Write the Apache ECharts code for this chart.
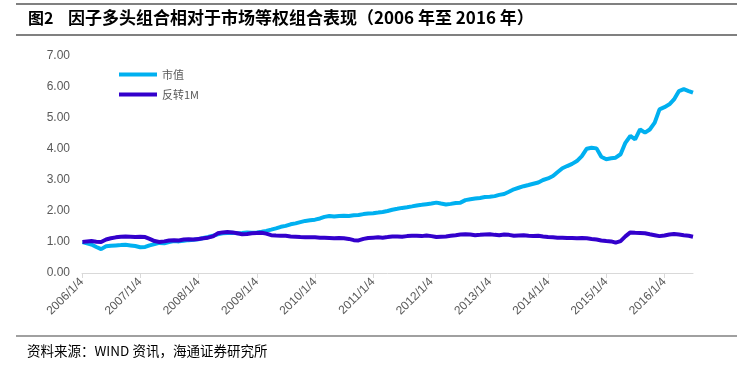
<!DOCTYPE html>
<html>
<head>
<meta charset="utf-8">
<script src="https://cdn.jsdelivr.net/npm/echarts@6/dist/echarts.min.js"></script>
<style>
html,body{margin:0;padding:0;background:#fff;}
#chart{width:753px;height:366px;}
</style>
</head>
<body>
<div id="chart"></div>
<script>
const titleLabel = '图2';
const titleText = '因子多头组合相对于市场等权组合表现（2006 年至 2016 年）';
const sourceText = '资料来源：WIND 资讯，海通证券研究所';
const seriesNames = ['市值', '反转1M'];

const dates = [
'2006-01-04','2006-02-01','2006-03-01','2006-04-01','2006-05-01','2006-06-01','2006-07-01','2006-08-01','2006-09-01','2006-10-01','2006-11-01','2006-12-01',
'2007-01-01','2007-02-01','2007-03-01','2007-04-01','2007-05-01','2007-06-01','2007-07-01','2007-08-01','2007-09-01','2007-10-01','2007-11-01','2007-12-01',
'2008-01-01','2008-02-01','2008-03-01','2008-04-01','2008-05-01','2008-06-01','2008-07-01','2008-08-01','2008-09-01','2008-10-01','2008-11-01','2008-12-01',
'2009-01-01','2009-02-01','2009-03-01','2009-04-01','2009-05-01','2009-06-01','2009-07-01','2009-08-01','2009-09-01','2009-10-01','2009-11-01','2009-12-01',
'2010-01-01','2010-02-01','2010-03-01','2010-04-01','2010-05-01','2010-06-01','2010-07-01','2010-08-01','2010-09-01','2010-10-01','2010-11-01','2010-12-01',
'2011-01-01','2011-02-01','2011-03-01','2011-04-01','2011-05-01','2011-06-01','2011-07-01','2011-08-01','2011-09-01','2011-10-01','2011-11-01','2011-12-01',
'2012-01-01','2012-02-01','2012-03-01','2012-04-01','2012-05-01','2012-06-01','2012-07-01','2012-08-01','2012-09-01','2012-10-01','2012-11-01','2012-12-01',
'2013-01-01','2013-02-01','2013-03-01','2013-04-01','2013-05-01','2013-06-01','2013-07-01','2013-08-01','2013-09-01','2013-10-01','2013-11-01','2013-12-01',
'2014-01-01','2014-02-01','2014-03-01','2014-04-01','2014-05-01','2014-06-01','2014-07-01','2014-08-01','2014-09-01','2014-10-01','2014-11-01','2014-12-01',
'2015-01-01','2015-02-01','2015-03-01','2015-04-01','2015-05-01','2015-06-01','2015-07-01','2015-08-01','2015-09-01','2015-10-01','2015-11-01','2015-12-01',
'2016-01-01','2016-02-01','2016-03-01','2016-04-01','2016-05-01','2016-06-01','2016-06-28'
];

const marketCap = [
1.00,0.96,0.92,0.84,0.77,0.86,0.88,0.89,0.90,0.91,0.89,0.87,
0.83,0.84,0.89,0.93,0.97,0.96,1.00,1.03,1.02,1.04,1.06,1.07,
1.09,1.13,1.16,1.20,1.25,1.28,1.29,1.30,1.28,1.29,1.31,1.30,
1.31,1.33,1.36,1.40,1.44,1.49,1.52,1.57,1.60,1.64,1.68,1.70,
1.72,1.76,1.81,1.84,1.82,1.84,1.85,1.84,1.86,1.87,1.90,1.92,
1.93,1.95,1.97,2.00,2.04,2.07,2.10,2.12,2.15,2.18,2.20,2.22,
2.24,2.27,2.24,2.21,2.23,2.26,2.27,2.35,2.38,2.40,2.42,2.45,
2.46,2.48,2.52,2.55,2.62,2.70,2.75,2.80,2.84,2.88,2.92,3.00,
3.05,3.13,3.25,3.38,3.45,3.52,3.61,3.77,4.01,4.04,4.02,3.75,
3.67,3.70,3.72,3.83,4.20,4.42,4.31,4.63,4.53,4.63,4.85,5.28,
5.35,5.44,5.60,5.87,5.93,5.87,5.82
];

const reversal1M = [
1.00,1.02,1.03,1.01,1.00,1.08,1.12,1.15,1.17,1.18,1.17,1.16,
1.17,1.16,1.10,1.03,1.00,1.02,1.05,1.06,1.05,1.08,1.09,1.08,
1.10,1.12,1.14,1.18,1.28,1.31,1.32,1.31,1.28,1.25,1.26,1.28,
1.29,1.30,1.27,1.22,1.21,1.20,1.20,1.18,1.17,1.16,1.15,1.15,
1.15,1.14,1.14,1.13,1.12,1.13,1.12,1.10,1.06,1.05,1.10,1.13,
1.14,1.15,1.14,1.16,1.18,1.18,1.17,1.19,1.20,1.20,1.19,1.21,
1.19,1.16,1.17,1.18,1.20,1.22,1.24,1.25,1.24,1.22,1.23,1.24,
1.25,1.23,1.22,1.24,1.23,1.20,1.21,1.22,1.20,1.19,1.20,1.18,
1.16,1.15,1.14,1.14,1.13,1.13,1.12,1.13,1.12,1.10,1.08,1.05,
1.03,1.02,0.98,1.03,1.18,1.31,1.30,1.29,1.28,1.25,1.22,1.19,
1.21,1.24,1.26,1.24,1.22,1.20,1.17
];

const xMin = '2006-01-01';
const xMax = '2016-06-28';
const yTicks = [0, 1, 2, 3, 4, 5, 6, 7];

const chart = echarts.init(document.getElementById('chart'));
const pair = (vals) => dates.map((d, i) => [d, vals[i]]);
const YEAR = 365 * 24 * 3600 * 1000;

chart.setOption({
  backgroundColor: '#fff',
  animation: false,
  grid: { left: 82, right: 60, top: 56, bottom: 93, containLabel: false },
  legend: {
    orient: 'vertical', left: 119, top: 69, padding: 0,
    itemWidth: 38, itemHeight: 4, itemGap: 9,
    icon: 'rect',
    textStyle: { fontSize: 11, color: '#595959', fontFamily: 'Noto Sans CJK SC' },
    data: seriesNames
  },
  xAxis: {
    type: 'time', min: xMin, max: xMax,
    minInterval: YEAR, maxInterval: YEAR + 2 * 24 * 3600 * 1000,
    axisLine: { show: true, lineStyle: { color: '#d9d9d9', width: 1 } },
    axisTick: { show: true, length: 5, lineStyle: { color: '#d9d9d9' } },
    splitLine: { show: false },
    axisLabel: {
      rotate: 45, fontSize: 12, color: '#595959', margin: 7,
      fontFamily: 'Liberation Sans', showMaxLabel: false,
      formatter: (v) => new Date(v).getFullYear() + '/1/4'
    }
  },
  yAxis: {
    type: 'value', min: yTicks[0], max: yTicks[yTicks.length - 1], interval: 1,
    axisLine: { show: false }, axisTick: { show: false },
    splitLine: { show: false },
    axisLabel: { fontSize: 12, color: '#595959', margin: 12, fontFamily: 'Liberation Sans',
      formatter: (v) => v.toFixed(2) }
  },
  series: [
    { name: seriesNames[0], type: 'line', data: pair(marketCap), showSymbol: false,
      lineStyle: { width: 4, color: '#00B0F0' }, itemStyle: { color: '#00B0F0' } },
    { name: seriesNames[1], type: 'line', data: pair(reversal1M), showSymbol: false,
      lineStyle: { width: 4, color: '#3300CC' }, itemStyle: { color: '#3300CC' } }
  ],
  graphic: [
    { type: 'line', shape: { x1: 16, y1: 4, x2: 737, y2: 4 }, style: { stroke: '#808080', lineWidth: 2 } },
    { type: 'line', shape: { x1: 16, y1: 35, x2: 737, y2: 35 }, style: { stroke: '#808080', lineWidth: 2 } },
    { type: 'line', shape: { x1: 16, y1: 336, x2: 737, y2: 336 }, style: { stroke: '#808080', lineWidth: 1.5 } },
    { type: 'text', left: 28, top: 10, style: { text: titleLabel, font: 'bold 16px "Noto Sans CJK SC"', fill: '#000' } },
    { type: 'text', left: 68, top: 9, style: { text: titleText, font: 'bold 17px "Noto Sans CJK SC"', fill: '#000' } },
    { type: 'text', left: 27, top: 344, style: { text: sourceText, font: '13.5px "Noto Sans CJK SC"', fill: '#000' } }
  ]
});
</script>
</body>
</html>
